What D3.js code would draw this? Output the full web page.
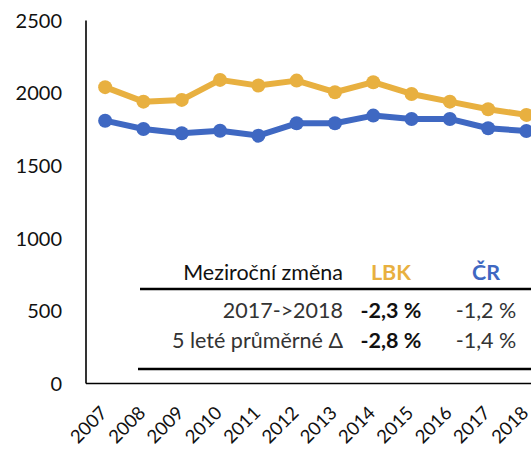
<!DOCTYPE html>
<html>
<head>
<meta charset="utf-8">
<script src="https://cdn.jsdelivr.net/npm/d3@7"></script>
<style>
	body { margin: 0; background: #fff; }
	text { font-family: Lato, "Open Sans", sans-serif; fill: #111; }
</style>
</head>
<body>
<script>
// chart data
const years = ["2007", "2008", "2009", "2010", "2011", "2012", "2013", "2014", "2015", "2016", "2017", "2018"];
const lbk = [2041, 1941, 1953, 2091, 2052, 2086, 2006, 2075, 1994, 1941, 1889, 1850];
const cr = [1810, 1753, 1723, 1741, 1707, 1792, 1792, 1845, 1822, 1822, 1758, 1739];
const yTicks = [0, 500, 1000, 1500, 2000, 2500];

// table data
const tableHeader = ["Meziroční změna", "LBK", "ČR"];
const tableLabels = ["2017->2018", "5 leté průměrné Δ"];
const tableLbk = ["-2,3 %", "-2,8 %"];
const tableCr = ["-1,2 %", "-1,4 %"];

const width = 531, height = 449;
const yellow = "#E8B040", blue = "#3F68C2";

let svg = d3.select("body").append("svg")
	.attr("width", width)
	.attr("height", height);

let x = d3.scalePoint()
	.domain(years)
	.range([86, 86 + 12 * 38.3])
	.padding(0.5);

let y = d3.scaleLinear()
	.domain([0, 2500])
	.range([383.5, 20.5]);

//axes lines
svg.append("line")
	.attr("x1", 86).attr("x2", 86)
	.attr("y1", y(2500)).attr("y2", y(0))
	.attr("stroke", "#000").attr("stroke-width", 1.6);
svg.append("line")
	.attr("x1", 86).attr("x2", width)
	.attr("y1", y(0)).attr("y2", y(0))
	.attr("stroke", "#000").attr("stroke-width", 1.6);

//y tick labels
svg.selectAll(".ylab")
	.data(yTicks)
	.enter().append("text")
	.attr("class", "ylab")
	.attr("x", 62)
	.attr("y", d => y(d))
	.attr("dy", "0.36em")
	.attr("text-anchor", "end")
	.style("font-size", "20px")
	.text(d => d);

//x tick labels, rotated
svg.selectAll(".xlab")
	.data(years)
	.enter().append("text")
	.attr("class", "xlab")
	.attr("transform", d => `translate(${x(d) - 6},${405}) rotate(-45)`)
	.attr("text-anchor", "end")
	.attr("dy", "0.7em")
	.style("font-size", "18.5px")
	.text(d => d);

//series
let line = d3.line()
	.x((d, i) => x(years[i]))
	.y(d => y(d));

let series = [{ values: lbk, color: yellow }, { values: cr, color: blue }];

series.forEach(s => {
	svg.append("path")
		.datum(s.values)
		.attr("d", line)
		.attr("fill", "none")
		.attr("stroke", s.color)
		.attr("stroke-width", 6)
		.attr("stroke-linejoin", "round");
	svg.append("g").selectAll("circle")
		.data(s.values)
		.enter().append("circle")
		.attr("cx", (d, i) => x(years[i]))
		.attr("cy", d => y(d))
		.attr("r", 7)
		.attr("fill", s.color);
});

//table
let colLabel = 343, colLbk = 391, colCr = 486;
let t = svg.append("g").style("font-size", "21.5px");

t.append("text").attr("x", colLabel).attr("y", 280)
	.attr("text-anchor", "end").text(tableHeader[0]);
t.append("text").attr("x", colLbk).attr("y", 280)
	.attr("text-anchor", "middle").style("font-weight", "bold")
	.style("fill", yellow).text(tableHeader[1]);
t.append("text").attr("x", colCr).attr("y", 280)
	.attr("text-anchor", "middle").style("font-weight", "bold")
	.style("fill", blue).text(tableHeader[2]);

t.append("line").attr("x1", 140).attr("x2", width)
	.attr("y1", 289).attr("y2", 289)
	.attr("stroke", "#000").attr("stroke-width", 2.5);
t.append("line").attr("x1", 138).attr("x2", width)
	.attr("y1", 369).attr("y2", 369)
	.attr("stroke", "#000").attr("stroke-width", 2.5);

let rowY = [318, 348];
t.selectAll(".rlab").data(tableLabels).enter().append("text")
	.attr("x", colLabel).attr("y", (d, i) => rowY[i])
	.attr("text-anchor", "end").style("fill", "#333").text(d => d);
t.selectAll(".rlbk").data(tableLbk).enter().append("text")
	.attr("x", colLbk).attr("y", (d, i) => rowY[i])
	.attr("text-anchor", "middle").style("font-weight", "bold").text(d => d);
t.selectAll(".rcr").data(tableCr).enter().append("text")
	.attr("x", colCr).attr("y", (d, i) => rowY[i])
	.attr("text-anchor", "middle").style("fill", "#333").text(d => d);
</script>
</body>
</html>
